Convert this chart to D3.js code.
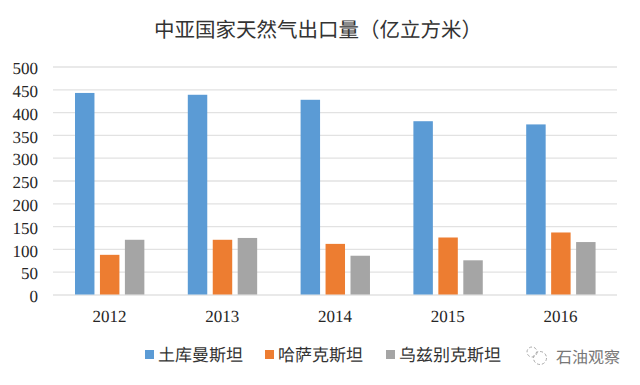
<!DOCTYPE html>
<html lang="zh">
<head>
    <meta charset="UTF-8">
    <script src="https://d3js.org/d3.v7.min.js"></script>
    <title>中亚国家天然气出口量</title>
    <style>
        html, body { margin: 0; padding: 0; background: #fff; }
        svg { display: block; text-rendering: geometricPrecision; }
        .num { font-family: "Liberation Serif", serif; font-size: 17px; fill: #262626; }
        .cjk { font-family: "Noto Sans CJK SC", sans-serif; }
    </style>
</head>
<body>
    <div id="container"></div>
    <script>
        // 数据
        var years = ["2012", "2013", "2014", "2015", "2016"];
        var seriesNames = ["土库曼斯坦", "哈萨克斯坦", "乌兹别克斯坦"];
        var turkmenistan = [442, 438, 427, 380, 373];
        var kazakhstan = [87, 120, 111, 125, 136];
        var uzbekistan = [120, 124, 85, 75, 115];
        var yTicks = [0, 50, 100, 150, 200, 250, 300, 350, 400, 450, 500];
        var colors = ["#5b9bd5", "#ed7d31", "#a5a5a5"];
        var chartTitle = "中亚国家天然气出口量（亿立方米）";
        var watermark = "石油观察";

        var seriesValues = [turkmenistan, kazakhstan, uzbekistan];
        var width = 640, height = 385;
        var margin = {left: 53, top: 66.5, right: 23, bottom: 90.5};
        var chart_width = width - margin.left - margin.right;
        var chart_height = height - margin.top - margin.bottom;

        var svg = d3.select("#container").append("svg").attr("width", width).attr("height", height);
        var g = svg.append("g").attr("transform", `translate(${margin.left},${margin.top})`);

        var scale_x = d3.scaleBand().domain(years).range([0, chart_width]);
        var scale_inner = d3.scaleBand().domain(d3.range(seriesNames.length))
            .range([scale_x.bandwidth() * 0.195, scale_x.bandwidth() * 0.81])
            .paddingInner(0.22);
        var scale_y = d3.scaleLinear().domain([0, 500]).range([chart_height, 0]);

        // 网格线
        var yaxis = d3.axisLeft(scale_y).tickValues(yTicks).tickSize(-chart_width).tickPadding(15);
        var yg = g.append("g").call(yaxis);
        yg.select(".domain").remove();
        yg.selectAll("line").attr("stroke", "#e2e2e2").attr("stroke-width", 1.3);
        yg.selectAll("text").attr("class", "num").attr("dy", "0.42em");

        var xaxis = d3.axisBottom(scale_x).tickSize(0).tickPadding(15);
        var xg = g.append("g").attr("transform", `translate(0,${chart_height})`).call(xaxis);
        xg.select(".domain").remove();
        xg.selectAll("text").attr("class", "num");

        // 柱子
        seriesValues.forEach(function(values, s) {
            g.append("g").selectAll("rect").data(values).join("rect")
                .attr("x", (d, i) => scale_x(years[i]) + scale_inner(s))
                .attr("y", d => scale_y(d))
                .attr("width", scale_inner.bandwidth())
                .attr("height", d => chart_height - scale_y(d))
                .attr("fill", colors[s]);
        });

        // 标题
        svg.append("text").attr("class", "cjk").attr("x", 318).attr("y", 37)
            .attr("text-anchor", "middle").attr("font-size", 20.5).attr("fill", "#333")
            .text(chartTitle);

        // 图例
        var legendX = [145, 265, 386];
        var legend = svg.append("g").selectAll("g").data(seriesNames).join("g")
            .attr("transform", (d, i) => `translate(${legendX[i]},350)`);
        legend.append("rect").attr("y", 0).attr("width", 9).attr("height", 9).attr("fill", (d, i) => colors[i]);
        legend.append("text").attr("class", "cjk").attr("x", 13).attr("y", 11)
            .attr("font-size", 17).attr("fill", "#333").text(d => d);

        // 水印
        var mark = svg.append("g").attr("transform", "translate(533,355)")
            .attr("fill", "none").attr("stroke", "#aaa").attr("stroke-width", 1);
        mark.append("circle").attr("cx", -1).attr("cy", -3).attr("r", 5).attr("stroke-dasharray", "3 2");
        mark.append("circle").attr("cx", 7).attr("cy", 3).attr("r", 6.5).attr("stroke-dasharray", "3 2");
        svg.append("text").attr("class", "cjk").attr("x", 556).attr("y", 363)
            .attr("font-size", 16).attr("fill", "#777").text(watermark);
    </script>
</body>
</html>
